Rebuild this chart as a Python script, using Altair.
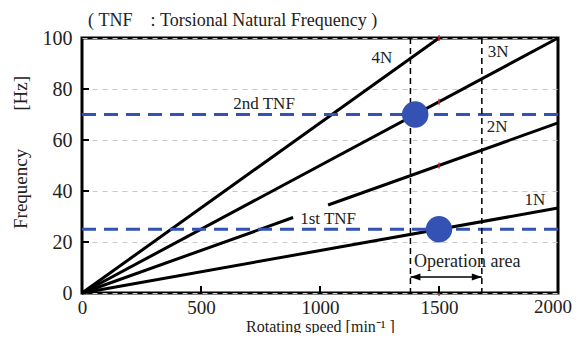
import altair as alt
import pandas as pd

# ---- data ----
seg_name = ["1N", "2N", "2N", "3N", "4N"]
seg_x0 = [0, 0, 1034, 0, 0]
seg_y0 = [0, 0, 34.5, 0, 0]
seg_x1 = [2000, 887, 2000, 2000, 1500]
seg_y1 = [33.3, 29.6, 66.7, 100, 100]

tnf_names = ["1st TNF", "2nd TNF"]
tnf_values = [25, 70]

cross_rpm = [1500, 1400]
cross_hz = [25, 70]

op_area = [1380, 1680]

lbl_text = ["4N", "3N", "2N", "1N", "2nd TNF", "1st TNF"]
lbl_x = [1260, 1748, 1744, 1903, 765, 1034]
lbl_y = [92, 94.5, 65, 36.5, 74, 29]

red_x = [1500, 1500, 1500, 1500]
red_y = [100, 75, 50, 0]

y_ticks = [20, 40, 60, 80]
x_ticks = [500, 1000, 1500]
x_labels = [0, 500, 1000, 1500]
x_last = [2000]

FONT = "Liberation Serif"
BLUE = "#3352b3"
NB = "\u00a0"

xs = alt.Scale(domain=[0, 2000], nice=False, zero=True)
ys = alt.Scale(domain=[0, 100], nice=False, zero=True)

segs = pd.DataFrame({"name": seg_name, "x0": seg_x0, "y0": seg_y0, "x1": seg_x1, "y1": seg_y1})
tnf = pd.DataFrame({"name": tnf_names, "v": tnf_values})
cross = pd.DataFrame({"rpm": cross_rpm, "hz": cross_hz})
op = pd.DataFrame({"rpm": op_area})
lbl = pd.DataFrame({"t": lbl_text, "x": lbl_x, "y": lbl_y})
red = pd.DataFrame({"x": red_x, "y": red_y})
yt = pd.DataFrame({"v": y_ticks})
xt = pd.DataFrame({"v": x_ticks})
xl = pd.DataFrame({"v": x_last, "t": [str(v) for v in x_last]})
arrow = pd.DataFrame({"a": [op_area[0]], "b": [op_area[1]], "y": [6.3]})
heads = pd.DataFrame({"x": op_area, "y": [6.3, 6.3],
                      "s": ["M0,0L1,-0.35L1,0.35Z", "M0,0L-1,-0.35L-1,0.35Z"]})
optext = pd.DataFrame({"x": [1395], "y": [12], "t": ["Operation area"]})

base = alt.Chart(segs).mark_rule(color="black", strokeWidth=3).encode(
    x=alt.X("x0:Q", scale=xs, axis=alt.Axis(
        title="Rotating speed [min⁻¹" + NB + "]", values=x_labels,
        format="d", ticks=False, domain=False, grid=False, labelFontSize=19,
        labelColor="#222", labelPadding=5, titleFontSize=16,
        titleFontWeight="normal", titleColor="#222", titlePadding=1,
        labelFlush=False)),
    y=alt.Y("y0:Q", scale=ys, axis=alt.Axis(
        title="Frequency" + NB * 8 + "[Hz]", values=[0, 20, 40, 60, 80, 100],
        format="d", ticks=False, domain=False, grid=True, gridColor="#c8c8c8",
        gridDash=[5, 5], gridWidth=1, labelFontSize=20,
        labelColor="#222", labelPadding=10, titleFontSize=19,
        titleFontWeight="normal", titleColor="#222", titleX=-62, titleY=114,
        titleAlign="center", titleBaseline="middle", labelFlush=False)),
    x2="x1:Q", y2="y1:Q")

last_lbl = alt.Chart(xl).mark_text(font=FONT, fontSize=19, color="#222", align="right",
                                   baseline="top", dx=14).encode(
    x=alt.X("v:Q", scale=xs), y=alt.value(260), text="t:N")

tnf_lines = alt.Chart(tnf).mark_rule(color=BLUE, strokeWidth=3, strokeDash=[14, 8]).encode(
    y=alt.Y("v:Q", scale=ys))

op_lines = alt.Chart(op).mark_rule(color="black", strokeWidth=1.5, strokeDash=[6, 4]).encode(
    x=alt.X("rpm:Q", scale=xs))

circles = alt.Chart(cross).mark_circle(color=BLUE, opacity=1, size=700).encode(
    x=alt.X("rpm:Q", scale=xs), y=alt.Y("hz:Q", scale=ys))

labels = alt.Chart(lbl).mark_text(font=FONT, fontSize=17, color="#222").encode(
    x=alt.X("x:Q", scale=xs), y=alt.Y("y:Q", scale=ys), text="t:N")

reds = alt.Chart(red).mark_tick(color="#e02020", size=6, thickness=2, orient="vertical").encode(
    x=alt.X("x:Q", scale=xs), y=alt.Y("y:Q", scale=ys))

ytk = alt.Chart(yt).mark_rule(color="black", strokeWidth=2).encode(
    y=alt.Y("v:Q", scale=ys), x=alt.value(0), x2=alt.value(7))
xtk = alt.Chart(xt).mark_rule(color="black", strokeWidth=2).encode(
    x=alt.X("v:Q", scale=xs), y=alt.value(255), y2=alt.value(248))

arr = alt.Chart(arrow).mark_rule(color="black", strokeWidth=1.5).encode(
    x=alt.X("a:Q", scale=xs), x2="b:Q", y=alt.Y("y:Q", scale=ys))
arrh = alt.Chart(heads).mark_point(filled=True, color="black", opacity=1, size=400).encode(
    x=alt.X("x:Q", scale=xs), y=alt.Y("y:Q", scale=ys),
    shape=alt.Shape("s:N", scale=None))
opt = alt.Chart(optext).mark_text(font=FONT, fontSize=18, color="#222", align="left").encode(
    x=alt.X("x:Q", scale=xs), y=alt.Y("y:Q", scale=ys), text="t:N")

chart = alt.layer(base, tnf_lines, op_lines, reds, circles, labels, ytk, xtk, arr, arrh, opt,
                  last_lbl).properties(
    width=476, height=255,
    title=alt.TitleParams(text="(" + NB + "TNF" + NB * 4 + ":" + NB + "Torsional Natural Frequency" + NB + ")",
                          anchor="start", frame="group", dx=6, dy=10, offset=8, fontSize=18,
                          fontWeight="normal", color="#222"),
    autosize=alt.AutoSizeParams(type="none"),
    padding={"left": 74, "top": 30, "right": 14, "bottom": 40},
).configure_view(stroke="black", strokeWidth=3).configure_axis(
    labelFont=FONT, titleFont=FONT).configure_title(font=FONT)

chart.save("out.html", embed_options={"renderer": "svg", "actions": False})
